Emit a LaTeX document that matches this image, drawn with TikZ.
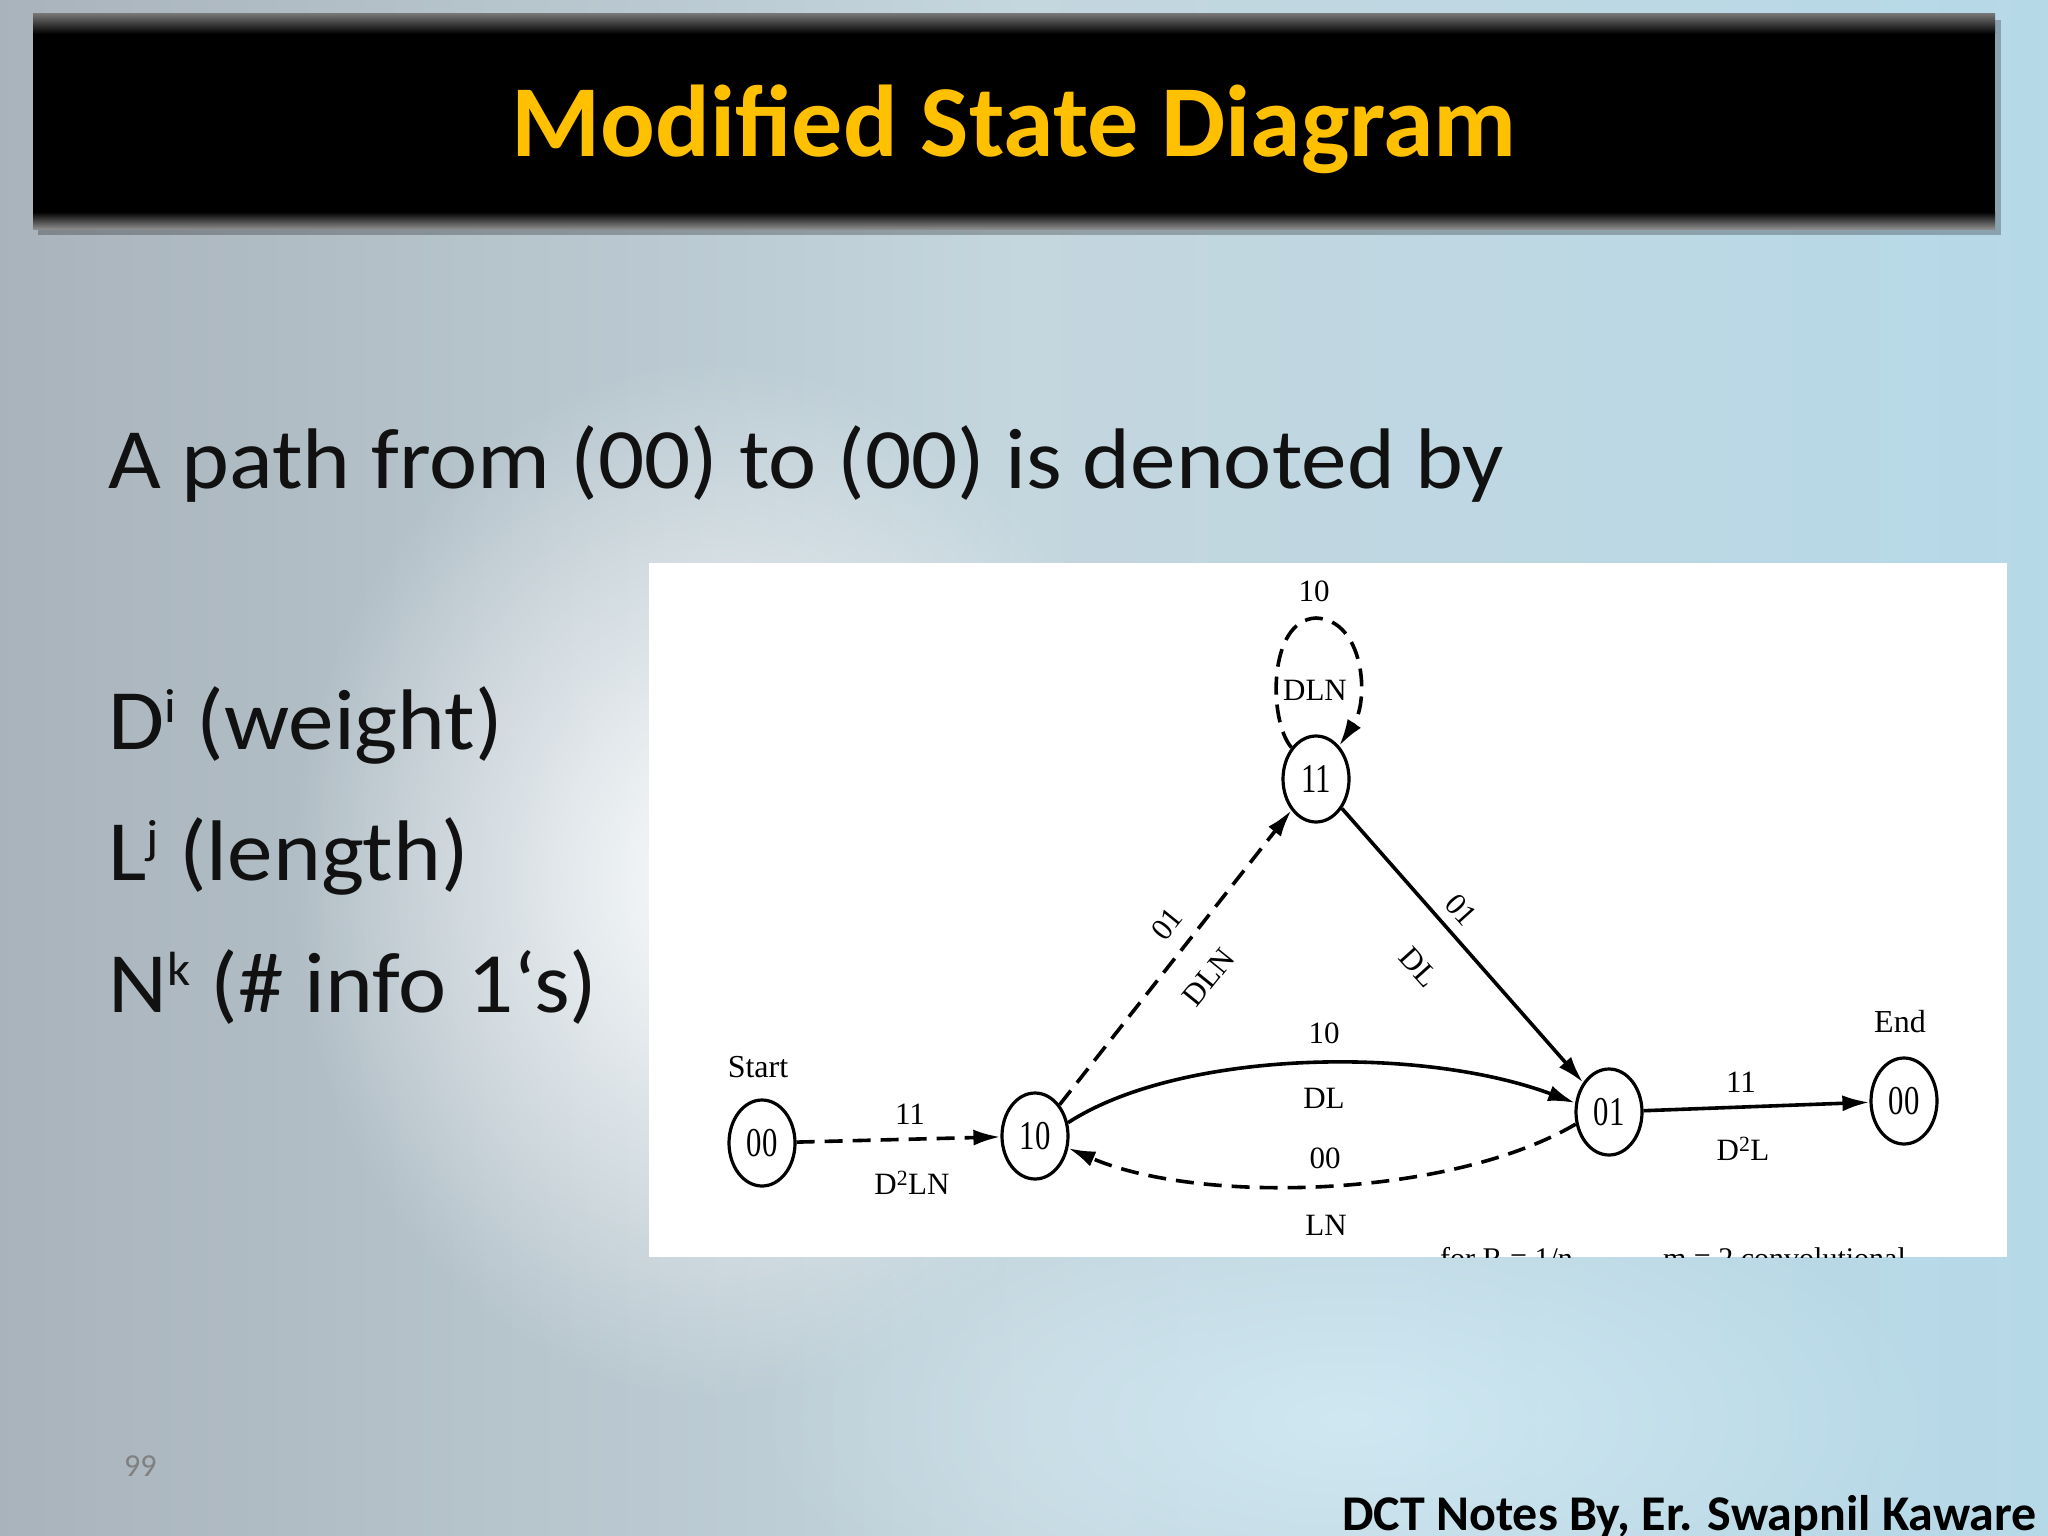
\documentclass[tikz,border=0pt]{standalone}
\usepackage{fontspec}
\setmainfont{Carlito}
\newfontfamily\bodyfont[FakeStretch=1.06]{Carlito}
\newfontfamily\diagfont{Liberation Serif}
\newfontfamily\nodefont[FakeStretch=0.75]{Liberation Serif}
\usetikzlibrary{arrows.meta,shapes.geometric,fadings}
\definecolor{titlegold}{HTML}{FFC000}
\definecolor{bgleft}{HTML}{A9B3BB}
\definecolor{bgmid}{HTML}{C4D6DE}
\definecolor{bgright}{HTML}{B6D9E8}
\definecolor{bodytext}{HTML}{111111}
\tikzfading[name=glowfade, inner color=transparent!0, outer color=transparent!100]
\newcommand{\supx}[1]{\raisebox{27pt}{\fontsize{48}{48}\selectfont #1}}
\tikzset{
  state/.style={draw, line width=3.2pt, ellipse, minimum width=66pt, minimum height=86pt,
    inner sep=0pt, fill=white, font=\nodefont\fontsize{41}{41}\selectfont},
  elabel/.style={font=\diagfont\fontsize{31}{31}\selectfont, inner sep=0pt},
  wire/.style={line width=3.6pt},
  dashpat/.style={dash pattern=on 18pt off 10pt},
  arr/.style={-{Latex[length=27pt,width=16pt]}},
  bodyline/.style={anchor=base west, text=bodytext, font=\bodyfont\fontsize{86}{100}\selectfont, inner sep=0pt},
  capt/.style={font=\diagfont\fontsize{30}{30}\selectfont, inner sep=0pt}
}
\begin{document}
\begin{tikzpicture}[x=1pt,y=-1pt]
\useasboundingbox (0,0) rectangle (2048,1536);
% background
\shade[left color=bgleft, right color=bgright, middle color=bgmid] (0,0) rectangle (2048,1536);
\fill[white, path fading=glowfade, fill opacity=0.95] (720,880) ellipse (430 and 520);
\fill[cyan!15, path fading=glowfade, fill opacity=0.6] (1350,1420) ellipse (600 and 260);
% title bar
\fill[black, opacity=0.25] (38,20) rectangle (2001,235);
\fill[black] (33,14) rectangle (1995,229);
\shade[top color=black!55, bottom color=black] (33,14) rectangle (1995,34);
\shade[top color=black, bottom color=black!45] (33,212) rectangle (1995,229);
\node[anchor=base, text=titlegold, font=\bfseries\fontsize{102}{110}\selectfont, inner sep=0pt] (title) at (1014,157) {Modified State Diagram};
% body text
\node[bodyline] (line1) at (108,488) {A path from (00) to (00) is denoted by};
\node[bodyline] (line2) at (108,749) {D\supx{i} (weight)};
\node[bodyline] (line3) at (108,880) {L\supx{j} (length)};
\node[bodyline] (line4) at (108,1012) {N\supx{k} (\# info 1‘s)};
% diagram panel
\fill[white] (649,563) rectangle (2007,1257);
\begin{scope}
\clip (649,563) rectangle (2007,1257);
\node[capt, anchor=base west] (captA) at (1440,1268) {for R = 1/n,};
\node[capt, anchor=base east] (captB) at (1906,1268) {m = 2 convolutional};
\end{scope}
% states
\node[state] (S) at (762,1143) {00};
\node[state] (A) at (1035,1136) {10};
\node[state] (B) at (1316,779) {11};
\node[state] (C) at (1609,1112) {01};
\node[state] (E) at (1904,1101) {00};
\node[elabel, font=\diagfont\fontsize{32}{32}\selectfont] (startlbl) at (758,1067) {Start};
\node[elabel, font=\diagfont\fontsize{32}{32}\selectfont] (endlbl) at (1900,1022) {End};
% edges
\draw[wire, dashpat, arr] (S) -- (A);
\draw[wire, dashpat, arr] (A) -- (B);
\draw[wire, arr] (B) -- (C);
\draw[wire, arr] (C) -- (E);
\draw[wire, arr] (A.22) .. controls (1180,1050) and (1420,1045) .. (C.165);
\draw[wire, dashpat, arr] (C.200) .. controls (1450,1198) and (1200,1205) .. (A.-20);
\draw[wire, dashpat, arr] (B.128) .. controls (1268,720) and (1268,620) .. (1316,618) .. controls (1364,620) and (1370,700) .. (B.55);
% edge labels
\node[elabel] (l1a) at (910,1114) {11};
\node[elabel] (l1b) at (912,1183) {D\textsuperscript{2}LN};
\node[elabel, rotate=51] (l2a) at (1167,924) {01};
\node[elabel, rotate=51] (l2b) at (1209,977) {DLN};
\node[elabel] (l3a) at (1314,591) {10};
\node[elabel] (l3b) at (1315,690) {DLN};
\node[elabel, rotate=-48] (l4a) at (1461,910) {01};
\node[elabel, rotate=-48] (l4b) at (1419,967) {DL};
\node[elabel] (l5a) at (1324,1033) {10};
\node[elabel] (l5b) at (1324,1098) {DL};
\node[elabel] (l6a) at (1325,1158) {00};
\node[elabel] (l6b) at (1326,1225) {LN};
\node[elabel] (l7a) at (1741,1082) {11};
\node[elabel] (l7b) at (1743,1149) {D\textsuperscript{2}L};
% footer
\node[anchor=base west, text=gray, font=\fontsize{32}{32}\selectfont, inner sep=0pt] (pagenum) at (124,1476) {99};
\node[anchor=base east, text=black, font=\bfseries\fontsize{50}{50}\selectfont, inner sep=0pt] (footer) at (2037,1530) {DCT Notes By, Er. Swapnil Kaware};
\end{tikzpicture}
\end{document}
